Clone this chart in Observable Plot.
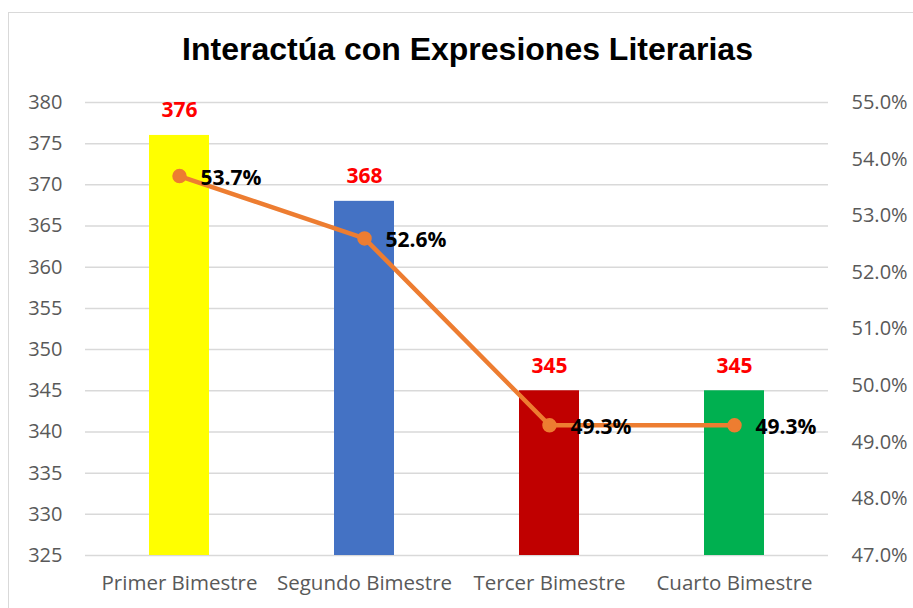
<!DOCTYPE html>
<html>
<head>
<meta charset="utf-8">
<script src="https://cdn.jsdelivr.net/npm/d3@7"></script>
<script src="https://cdn.jsdelivr.net/npm/@observablehq/plot@0.6"></script>
<style>
  html, body { margin: 0; padding: 0; background: #fff; }
  #wrap { position: relative; width: 913px; height: 608px; overflow: hidden; }
  #frame { position: absolute; left: 8px; top: 12px; width: 940px; height: 640px; border: 1.5px solid #d9d9d9; box-sizing: border-box; }
  #title { position: absolute; left: 0; width: 935px; top: 31px; text-align: center; font-family: "Liberation Sans", Arial, sans-serif; font-weight: bold; font-size: 32px; color: #000; }
  #chart { position: absolute; left: 0; top: 0; }
</style>
</head>
<body>
<div id="wrap">
  <div id="frame"></div>
  <div id="chart"></div>
  <div id="title">Interactúa con Expresiones Literarias</div>
</div>
<script>
const categories = ["Primer Bimestre", "Segundo Bimestre", "Tercer Bimestre", "Cuarto Bimestre"];
const counts = [376, 368, 345, 345];
const percents = [53.7, 52.6, 49.3, 49.3];
const barColors = ["#FFFF00", "#4472C4", "#C00000", "#00B050"];
const leftTicks = [325, 330, 335, 340, 345, 350, 355, 360, 365, 370, 375, 380];
const rightTicks = [47, 48, 49, 50, 51, 52, 53, 54, 55];

const yMin = 325, yMax = 380, pMin = 47, pMax = 55;
const toLeft = p => yMin + (p - pMin) / (pMax - pMin) * (yMax - yMin);
const toPct = v => pMin + (v - yMin) / (yMax - yMin) * (pMax - pMin);

const data = categories.map((c, i) => ({
  cat: c, count: counts[i], pct: percents[i], pctY: toLeft(percents[i]), color: barColors[i]
}));

const font = "'Open Sans', 'Noto Sans', sans-serif";

const chart = Plot.plot({
  width: 913,
  height: 608,
  marginLeft: 85,
  marginRight: 85,
  marginTop: 102,
  marginBottom: 53,
  style: { fontFamily: font, background: "transparent", overflow: "visible" },
  x: { domain: categories, paddingInner: 0.677, paddingOuter: 0.3385, label: null },
  y: { domain: [yMin, yMax], label: null },
  marks: [
    Plot.gridY(leftTicks, { stroke: "#d9d9d9", strokeOpacity: 1, strokeWidth: 1.5 }),
    Plot.barY(data, { x: "cat", y1: yMin, y2: "count", fill: "color" }),
    Plot.line(data, { x: "cat", y: "pctY", stroke: "#ED7D31", strokeWidth: 4.5 }),
    Plot.dot(data, { x: "cat", y: "pctY", r: 6.5, fill: "#ED7D31", stroke: "#ED7D31" }),
    Plot.text(data, { x: "cat", y: "count", text: d => String(d.count), dy: -25, fill: "#FF0000", fontWeight: "bold", fontSize: 21, fontFamily: font }),
    Plot.text(data, { x: "cat", y: "pctY", text: d => d.pct.toFixed(1) + "%", textAnchor: "start", dx: 21, dy: 2, fill: "#000", fontWeight: "bold", fontSize: 21, fontFamily: font }),
    Plot.axisY(leftTicks, { anchor: "left", tickSize: 0, tickPadding: 23, fontSize: 20, fill: "#595959", label: null }),
    Plot.axisY(rightTicks.map(toLeft), { anchor: "right", tickSize: 0, tickPadding: 23, fontSize: 20, fill: "#595959", label: null, tickFormat: v => toPct(v).toFixed(1) + "%" }),
    Plot.axisX({ tickSize: 0, tickPadding: 20, fontSize: 20.5, fill: "#595959", label: null })
  ]
});
document.getElementById("chart").appendChild(chart);
</script>
</body>
</html>
